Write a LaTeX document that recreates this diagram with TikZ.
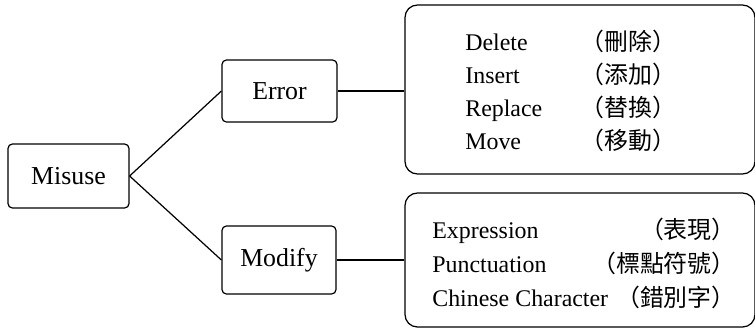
\documentclass[tikz,border=0pt]{standalone}
\usepackage{fontspec}
\setmainfont{Liberation Serif}
\newfontfamily\cjk{Noto Sans CJK TC}

\begin{document}
\begin{tikzpicture}[x=0.02cm, y=-0.02cm, font=\fontsize{13.6}{16}\selectfont,
  box/.style={draw, line width=0.7pt, rounded corners=2.5pt, inner sep=0pt,
    font=\fontsize{14.7}{17}\selectfont},
  listbox/.style={draw, line width=0.7pt, rounded corners=7pt, minimum width=7cm},
  item/.style={inner sep=0pt}]
\useasboundingbox (0,0) rectangle (755,329);
\node [box, minimum width=2.42cm, minimum height=1.28cm] (misuse) at (68.5,176) {Misuse};
\node [box, minimum width=2.3cm, minimum height=1.24cm] (error) at (279.5,91) {Error};
\node [box, minimum width=2.28cm, minimum height=1.36cm] (modify) at (279,260) {Modify};
\node [listbox, minimum height=3.38cm] (errlist) at (580,89.5) {};
\node [listbox, minimum height=2.68cm] (modlist) at (580,260) {};
\draw [line width=0.7pt] (misuse.east) -- (error.west);
\draw [line width=0.7pt] (misuse.east) -- (modify.west);
\draw [line width=0.7pt] (error.east) -- (error.east -| errlist.west);
\draw [line width=0.7pt] (modify.east) -- (modlist.west);
\foreach \en/\zh [count=\i] in {Delete/刪除, Insert/添加, Replace/替換, Move/移動} {
  \node [item, anchor=base west] (e\i) at (465, 17.7+33*\i) {\en};
  \node [item, anchor=base west] (c\i) at (580, 17.7+33*\i) {\cjk （\zh）};
}
\foreach \en/\zh [count=\i] in {Expression/表現, Punctuation/標點符號, Chinese Character/錯別字} {
  \node [item, anchor=base west] (m\i) at (432, 204+34*\i) {\en};
  \node [item, anchor=base east] (n\i) at (736, 204+34*\i) {\cjk （\zh）};
}
\end{tikzpicture}
\end{document}
